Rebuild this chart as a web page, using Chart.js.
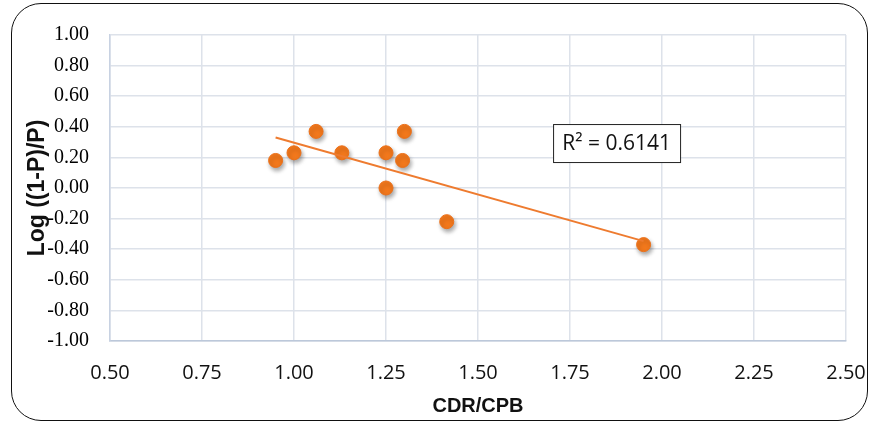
<!DOCTYPE html>
<html>
<head>
<meta charset="utf-8">
<script src="https://cdn.jsdelivr.net/npm/chart.js@4.4.1/dist/chart.umd.min.js"></script>
<style>
  html, body { margin: 0; padding: 0; background: #fff; }
  #wrap { position: relative; width: 872px; height: 423px; overflow: hidden; }
  #frame { position: absolute; left: 11px; top: 3px; width: 855px; height: 416px;
           border: 1.6px solid #111; border-radius: 30px; pointer-events: none; }
  canvas { position: absolute; left: 0; top: 0; }
</style>
</head>
<body>
<div id="wrap">
  <canvas id="c" width="872" height="423"></canvas>
  <div id="frame"></div>
</div>
<script>
// ---- data ----
const xValues = [0.95, 1.00, 1.06, 1.13, 1.25, 1.30, 1.295, 1.25, 1.415, 1.95];
const yValues = [0.18, 0.23, 0.37, 0.23, 0.23, 0.37, 0.18, 0.00, -0.22, -0.37];
const xTickValues = [0.50, 0.75, 1.00, 1.25, 1.50, 1.75, 2.00, 2.25, 2.50];
const yTickValues = [1.00, 0.80, 0.60, 0.40, 0.20, 0.00, -0.20, -0.40, -0.60, -0.80, -1.00];
const xTitle = 'CDR/CPB';
const yTitle = 'Log ((1-P)/P)';
const r2Label = 'R² = 0.6141';

// linear trendline (least squares) through the points
const n = xValues.length;
const mx = xValues.reduce((a, b) => a + b, 0) / n;
const my = yValues.reduce((a, b) => a + b, 0) / n;
let sxy = 0, sxx = 0;
for (let i = 0; i < n; i++) { sxy += (xValues[i] - mx) * (yValues[i] - my); sxx += (xValues[i] - mx) ** 2; }
const slope = sxy / sxx, intercept = my - slope * mx;
const xMin = Math.min(...xValues), xMax = Math.max(...xValues);
const trendData = [{x: xMin, y: intercept + slope * xMin}, {x: xMax, y: intercept + slope * xMax}];
const scatterData = xValues.map((x, i) => ({x, y: yValues[i]}));

const shadowPlugin = {
  id: 'shadow',
  beforeDatasetDraw(chart, args) {
    if (args.index === 1) {
      const ctx = chart.ctx;
      ctx.save();
      ctx.shadowColor = 'rgba(0,0,0,0.35)';
      ctx.shadowBlur = 4;
      ctx.shadowOffsetX = 1.5;
      ctx.shadowOffsetY = 3;
    }
  },
  afterDatasetDraw(chart, args) {
    if (args.index === 1) chart.ctx.restore();
  }
};

const r2Plugin = {
  id: 'r2box',
  afterDraw(chart) {
    const {ctx, scales: {x, y}} = chart;
    const left = x.getPixelForValue(1.704), top = y.getPixelForValue(0.418);
    const w = 127, h = 38;
    ctx.save();
    ctx.fillStyle = '#fff';
    ctx.fillRect(left, top, w, h);
    ctx.strokeStyle = '#222';
    ctx.lineWidth = 1;
    ctx.strokeRect(left + 0.5, top + 0.5, w, h);
    ctx.fillStyle = '#111';
    ctx.font = '21px "Open Sans", sans-serif';
    ctx.textAlign = 'center';
    ctx.textBaseline = 'middle';
    ctx.fillText(r2Label, left + w / 2, top + h / 2 + 1);
    ctx.restore();
  }
};

new Chart(document.getElementById('c'), {
  type: 'scatter',
  data: {
    datasets: [
      {
        type: 'line',
        data: trendData,
        borderColor: '#EE7B2F',
        borderWidth: 2,
        pointRadius: 0,
        fill: false,
        tension: 0
      },
      {
        type: 'scatter',
        data: scatterData,
        backgroundColor: '#F2781C',
        borderColor: '#EC7018',
        borderWidth: 1,
        pointRadius: 7,
        pointHoverRadius: 7
      }
    ]
  },
  options: {
    responsive: false,
    animation: false,
    devicePixelRatio: 1,
    layout: { padding: { top: 35, right: 26, left: 0, bottom: 0 } },
    plugins: { legend: { display: false }, tooltip: { enabled: false } },
    scales: {
      x: {
        type: 'linear',
        min: 0.5, max: 2.5,
        afterBuildTicks(s) { s.ticks = xTickValues.map(v => ({value: v})); },
        afterFit(s) { s.height = 82; s.paddingRight = 0; s.paddingLeft = 0; },
        grid: { color: '#DDE2EA', lineWidth: 1.5, drawTicks: false },
        border: { color: '#BCC8DA', width: 1.5 },
        ticks: {
          padding: 20,
          color: '#111',
          font: { family: '"Open Sans", sans-serif', size: 20 },
          callback: v => v.toFixed(2)
        },
        title: {
          display: true, text: xTitle, color: '#111',
          font: { family: '"Liberation Sans", Arial, sans-serif', size: 20, weight: 'bold' },
          padding: { top: 0, bottom: 5 }
        }
      },
      y: {
        type: 'linear',
        min: -1, max: 1,
        afterBuildTicks(s) { s.ticks = yTickValues.map(v => ({value: v})); },
        afterFit(s) { s.width = 110; s.paddingTop = 0; s.paddingBottom = 0; },
        grid: { color: '#DDE2EA', lineWidth: 1.5, drawTicks: false },
        border: { color: '#C8D2E2', width: 1.5 },
        ticks: {
          padding: 21,
          color: '#000',
          font: { family: '"Liberation Serif", "Times New Roman", serif', size: 20 },
          callback: v => (Math.abs(v) < 1e-9 ? 0 : v).toFixed(2)
        },
        title: {
          display: true, text: yTitle, color: '#111',
          font: { family: '"Liberation Sans", Arial, sans-serif', size: 23, weight: 'bold' },
          padding: { top: 24, bottom: 0 }
        }
      }
    }
  },
  plugins: [shadowPlugin, r2Plugin]
});
</script>
</body>
</html>
